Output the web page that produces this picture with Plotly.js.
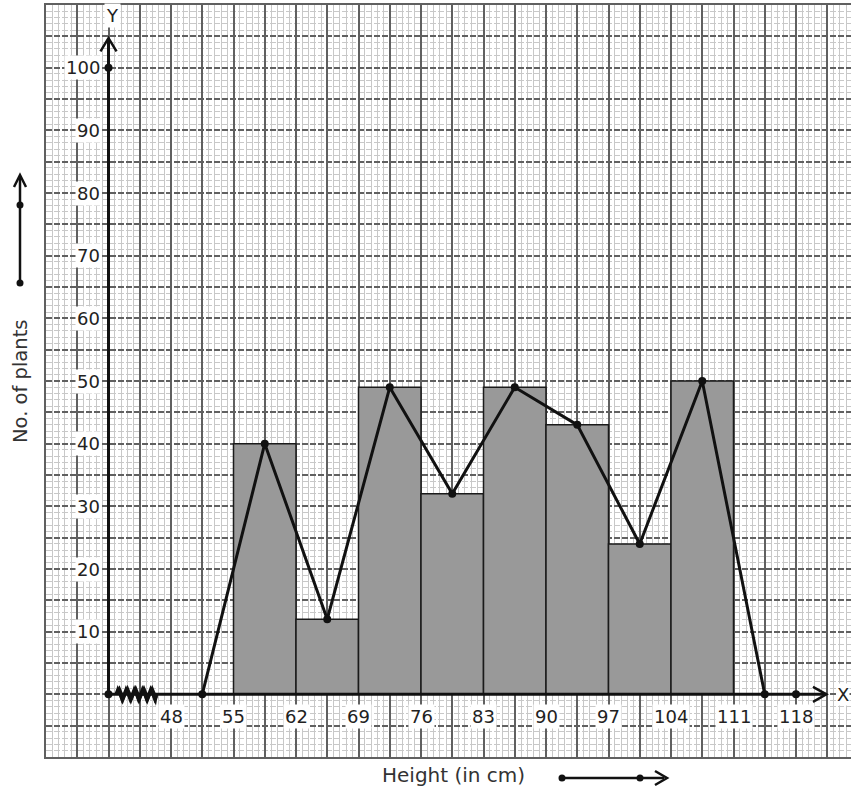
<!DOCTYPE html>
<html>
<head>
<meta charset="utf-8">
<script src="https://cdn.plot.ly/plotly-3.0.1.min.js"></script>
<style>html,body{margin:0;padding:0;background:#fff;}#chart{width:851px;height:794px;}</style>
</head>
<body>
<div id="chart"></div>
<script>
// ---- data ----
const classStarts = [55, 62, 69, 76, 83, 90, 97, 104];
const classWidth = 7;
const frequencies = [40, 12, 49, 32, 49, 43, 24, 50];
const xTickLabels = [48, 55, 62, 69, 76, 83, 90, 97, 104, 111, 118];
const yTickLabels = [10, 20, 30, 40, 50, 60, 70, 80, 90, 100];
const xTitle = "Height (in cm)";
const yTitle = "No. of plants";

// ---- derived ----
const mids = classStarts.map(s => s + classWidth / 2);
const polyX = [mids[0] - classWidth].concat(mids, [mids[mids.length - 1] + classWidth]);
const polyY = [0].concat(frequencies, [0]);
const originX = 41;
const extraDotX = 118;

// pixel -> paper helpers (plot area: x 46..851, y 5..757)
const PX = p => (p - 46) / 805;
const PY = p => (757 - p) / 752;

const ink = '#111';
const shapes = [];
// y axis line + arrowhead
shapes.push({type:'line', xref:'x', yref:'y', x0:originX, x1:originX, y0:0, y1:104.7, line:{color:ink, width:3}});
shapes.push({type:'path', xref:'x', yref:'y', path:`M ${originX-0.9},102.6 L ${originX},104.7 L ${originX+0.9},102.6`, line:{color:ink, width:2.5}});
// x axis line + arrowhead
shapes.push({type:'line', xref:'x', yref:'y', x0:originX, x1:121.4, y0:0, y1:0, line:{color:ink, width:3}});
shapes.push({type:'path', xref:'x', yref:'y', path:`M 119.9,1.2 L 121.4,0 L 119.9,-1.2`, line:{color:ink, width:2.5}});
// zigzag (axis break)
(function(){
  const x0 = 41.8, x1 = 46.4, n = 10;
  [[0.9, -0.9], [0.6, -1.1], [1.0, -0.6]].forEach((amp, k) => {
    let d = `M ${x0},0`;
    for (let i = 1; i <= n; i++) {
      const x = x0 + (x1 - x0) * (i - 0.5 + k * 0.2) / n;
      d += ` L ${x.toFixed(3)},${i % 2 ? amp[0] : amp[1]}`;
    }
    d += ` L ${x1},0`;
    shapes.push({type:'path', xref:'x', yref:'y', path:d, line:{color:ink, width:2.5}});
  });
})();
// dot helper in paper coords
function pdot(px, py, r) {
  shapes.push({type:'circle', xref:'paper', yref:'paper', x0:PX(px - r), x1:PX(px + r), y0:PY(py + r), y1:PY(py - r),
    fillcolor:ink, line:{color:ink, width:0}});
}
// y title arrow
shapes.push({type:'line', xref:'paper', yref:'paper', x0:PX(20), x1:PX(20), y0:PY(283), y1:PY(176), line:{color:ink, width:2.5}});
shapes.push({type:'path', xref:'paper', yref:'paper', path:`M ${PX(14)},${PY(187)} L ${PX(20)},${PY(175)} L ${PX(26)},${PY(187)}`, line:{color:ink, width:2.5}});
pdot(20, 283, 3.5); pdot(20, 205, 3.5);
// x title arrow
shapes.push({type:'line', xref:'paper', yref:'paper', x0:PX(562), x1:PX(664), y0:PY(778), y1:PY(778), line:{color:ink, width:2.5}});
shapes.push({type:'path', xref:'paper', yref:'paper', path:`M ${PX(655)},${PY(771)} L ${PX(667)},${PY(778)} L ${PX(655)},${PY(785)}`, line:{color:ink, width:2.5}});
pdot(562, 778, 3.5); pdot(640, 778, 3.5);

const tickFont = {family:'DejaVu Sans', size:18, color:'#222'};
const annotations = [];
xTickLabels.forEach(v => annotations.push({x:v, y:-3.6, xref:'x', yref:'y', text:String(v), showarrow:false,
  font:tickFont, bgcolor:'#fff', xanchor:'center', yanchor:'middle', borderpad:1}));
yTickLabels.forEach(v => annotations.push({x:originX-0.7, y:v, xref:'x', yref:'y', text:String(v), showarrow:false,
  font:tickFont, bgcolor:'#fff', xanchor:'right', yanchor:'middle', borderpad:1}));
annotations.push({x:41.4, y:108.3, xref:'x', yref:'y', text:'Y', showarrow:false, font:tickFont, bgcolor:'#fff', yanchor:'middle'});
annotations.push({x:122.5, y:0, xref:'x', yref:'y', text:'X', showarrow:false, font:tickFont, bgcolor:'#fff', xanchor:'left', yanchor:'middle', borderpad:0});
annotations.push({x:PX(453), y:PY(775), xref:'paper', yref:'paper', text:xTitle, showarrow:false, xanchor:'center', yanchor:'middle',
  font:{family:'DejaVu Sans', size:20, color:'#333'}});
annotations.push({x:PX(20), y:PY(382), xref:'paper', yref:'paper', text:yTitle, showarrow:false, textangle:-90, xanchor:'center', yanchor:'middle',
  font:{family:'DejaVu Sans', size:19.5, color:'#333'}});

const traces = [
  {type:'bar', x:mids, y:frequencies, width:classWidth, marker:{color:'#999999', line:{color:'#1a1a1a', width:1.5}}, hoverinfo:'x+y'},
  {type:'scatter', mode:'lines+markers', x:polyX, y:polyY, line:{color:ink, width:3}, marker:{color:ink, size:8}, cliponaxis:false},
  {type:'scatter', mode:'markers', x:[originX, originX, extraDotX], y:[0, 100, 0], marker:{color:ink, size:8}, cliponaxis:false}
];

const gridMajor = '#606060', gridMinor = '#c8c8c8';
const layout = {
  width:851, height:794,
  margin:{l:46, r:0, t:5, b:37},
  paper_bgcolor:'#fff', plot_bgcolor:'#fff',
  showlegend:false, bargap:0,
  xaxis:{range:[34, 124.16], tick0:34, dtick:3.5, showgrid:true, gridcolor:gridMajor, gridwidth:2,
    minor:{tick0:34, dtick:0.7, showgrid:true, gridcolor:gridMinor, gridwidth:1},
    showticklabels:false, ticks:'', zeroline:false, showline:true, mirror:true, linecolor:gridMajor, linewidth:2, fixedrange:true},
  yaxis:{range:[-10, 110], tick0:0, dtick:5, showgrid:true, gridcolor:gridMajor, gridwidth:2, griddash:'6px,2px',
    minor:{tick0:0, dtick:1, showgrid:true, gridcolor:gridMinor, gridwidth:1},
    showticklabels:false, ticks:'', zeroline:false, showline:true, mirror:true, linecolor:gridMajor, linewidth:2, fixedrange:true},
  shapes:shapes, annotations:annotations
};
Plotly.newPlot('chart', traces, layout, {displayModeBar:false, staticPlot:true});
</script>
</body>
</html>
